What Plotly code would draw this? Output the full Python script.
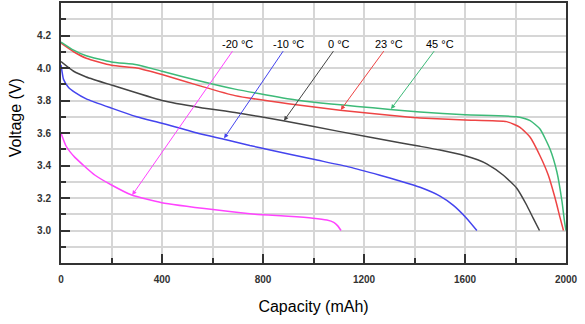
import plotly.graph_objects as go

# ---- data ----
temps = ["-20 °C", "-10 °C", "0 °C", "23 °C", "45 °C"]
colors = ["#ff44ff", "#4444ee", "#444444", "#ee4444", "#3dba78"]

cap_m20 = [0, 20, 55, 135, 200, 280, 399, 610, 768, 900, 998, 1053, 1080, 1095, 1109]
v_m20 = [3.60, 3.52, 3.45, 3.34, 3.28, 3.218, 3.171, 3.127, 3.10, 3.088, 3.076, 3.064, 3.05,
         3.03, 3.0]

cap_m10 = [0, 5, 10, 30, 55, 100, 200, 300, 400, 550, 650, 748, 828, 1000, 1144, 1263, 1342,
           1422, 1501, 1554, 1606, 1647]
v_m10 = [4.02, 3.97, 3.93, 3.88, 3.85, 3.81, 3.753, 3.70, 3.66, 3.595, 3.56, 3.523, 3.496, 3.438,
         3.39, 3.34, 3.305, 3.266, 3.212, 3.155, 3.076, 3.0]

cap_0 = [0, 50, 100, 200, 400, 550, 689, 880, 1100, 1342, 1422, 1501, 1600, 1650, 1686, 1752,
         1805, 1844, 1870, 1895]
v_0 = [4.04, 3.98, 3.945, 3.895, 3.80, 3.757, 3.726, 3.676, 3.61, 3.54, 3.518, 3.495, 3.46,
       3.435, 3.41, 3.34, 3.26, 3.157, 3.076, 3.0]

cap_23 = [0, 50, 100, 200, 300, 400, 550, 689, 900, 1105, 1342, 1422, 1600, 1765, 1818, 1858,
          1897, 1930, 1957, 1977, 1990]
v_23 = [4.153, 4.10, 4.06, 4.017, 4.0, 3.96, 3.89, 3.83, 3.78, 3.74, 3.703, 3.692, 3.68, 3.67,
        3.635, 3.574, 3.46, 3.34, 3.198, 3.076, 3.0]

cap_45 = [0, 50, 100, 200, 300, 400, 550, 689, 946, 1303, 1422, 1600, 1805, 1858, 1897, 1937,
          1964, 1984, 1994, 2000]
v_45 = [4.16, 4.11, 4.075, 4.037, 4.02, 3.98, 3.92, 3.87, 3.80, 3.745, 3.73, 3.712, 3.70, 3.676,
        3.625, 3.50, 3.36, 3.18, 3.056, 3.0]

caps = [cap_m20, cap_m10, cap_0, cap_23, cap_45]
volts = [v_m20, v_m10, v_0, v_23, v_45]

# label positions (text) and arrow target points
label_x = [700, 900, 1100, 1300, 1500]
label_y = [4.15, 4.15, 4.15, 4.15, 4.15]
arrow_x = [282, 646, 883, 1108, 1307]
arrow_y = [3.218, 3.568, 3.676, 3.742, 3.748]

x_ticks = [0, 400, 800, 1200, 1600, 2000]
y_ticks = [3.0, 3.2, 3.4, 3.6, 3.8, 4.0, 4.2]

fig = go.Figure()
for t, c, xs, ys in zip(temps, colors, caps, volts):
    fig.add_trace(go.Scatter(x=xs, y=ys, mode="lines", name=t,
                             line=dict(color=c, width=1.5, shape="spline", smoothing=0.5)))

for t, c, lx, ly, px, py in zip(temps, colors, label_x, label_y, arrow_x, arrow_y):
    fig.add_annotation(x=px, y=py, ax=lx, ay=ly, axref="x", ayref="y", xref="x", yref="y",
                       text=t, showarrow=True, arrowhead=2, arrowsize=0.9, arrowwidth=1,
                       arrowcolor=c, font=dict(size=11, color="#000000",
                                               family="Liberation Sans, Arial"))

fig.add_annotation(x=-0.09, xref="paper", y=3.694, yref="y", text="Voltage (V)",
                   textangle=-90, showarrow=False, xanchor="center", yanchor="middle",
                   font=dict(size=16, color="#000000", family="Liberation Sans, Arial"))

grid = "#d6d6d6"
fig.update_xaxes(range=[0, 2000], tickmode="array", tickvals=x_ticks,
                 ticks="inside", ticklen=9, tickwidth=2, tickcolor="#333333",
                 showline=True, linecolor="#333333", linewidth=2, mirror=True,
                 showgrid=True, gridcolor=grid, gridwidth=1.5, zeroline=False,
                 ticklabelstandoff=6,
                 tickfont=dict(size=10, color="#333333", family="Liberation Sans, Arial",
                               weight="bold"),
                 minor=dict(dtick=200, tick0=0, ticks="inside", ticklen=5, tickwidth=2,
                            tickcolor="#333333", showgrid=True, gridcolor=grid, gridwidth=1.5),
                 title=dict(text="Capacity (mAh)", standoff=17,
                            font=dict(size=16, color="#000000", family="Liberation Sans, Arial")))
fig.update_yaxes(range=[2.8, 4.4], tickmode="array", tickvals=y_ticks,
                 tickformat=".1f",
                 ticks="inside", ticklen=9, tickwidth=2, tickcolor="#333333",
                 showline=True, linecolor="#333333", linewidth=2, mirror=True,
                 showgrid=True, gridcolor=grid, gridwidth=1.5, zeroline=False,
                 ticklabelstandoff=6,
                 tickfont=dict(size=10, color="#333333", family="Liberation Sans, Arial",
                               weight="bold"),
                 minor=dict(dtick=0.1, tick0=2.8, ticks="inside", ticklen=5, tickwidth=2,
                            tickcolor="#333333", showgrid=True, gridcolor=grid, gridwidth=1.5))

fig.update_layout(width=585, height=324, margin=dict(l=61, r=19, t=1, b=61),
                  paper_bgcolor="white", plot_bgcolor="white", showlegend=False,
                  font=dict(family="Liberation Sans, Arial"))

fig.write_html("out.html")
